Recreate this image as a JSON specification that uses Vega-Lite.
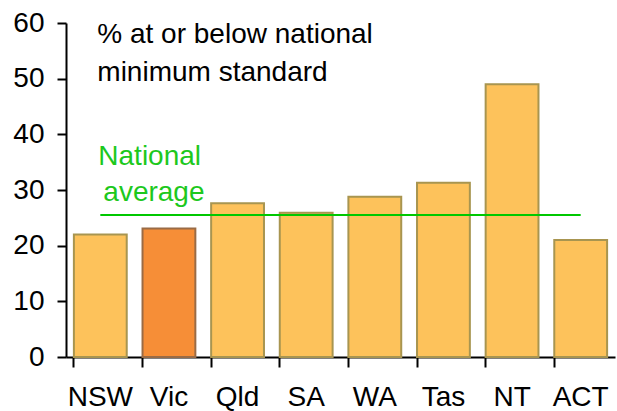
{
  "$schema": "https://vega.github.io/schema/vega-lite/v6.json",
  "autosize": {"type": "none"},
  "width": 549,
  "height": 334,
  "padding": {"left": 66, "top": 23, "right": 2, "bottom": 54},
  "background": "white",
  "config": {"view": {"stroke": null}, "font": "Liberation Sans"},
  "datasets": {
    "bars": [
      {"state": "NSW", "pct": 22.0, "hl": "no"},
      {"state": "Vic", "pct": 23.1, "hl": "yes"},
      {"state": "Qld", "pct": 27.6, "hl": "no"},
      {"state": "SA", "pct": 25.9, "hl": "no"},
      {"state": "WA", "pct": 28.8, "hl": "no"},
      {"state": "Tas", "pct": 31.3, "hl": "no"},
      {"state": "NT", "pct": 49.0, "hl": "no"},
      {"state": "ACT", "pct": 21.0, "hl": "no"}
    ],
    "avg": [{"from": "NSW", "to": "ACT", "value": 25.5}],
    "title": [
      {"state": "NSW", "y": 56.4, "text": "% at or below national"},
      {"state": "NSW", "y": 49.6, "text": "minimum standard"}
    ],
    "nat": [{"state": "NSW", "y": 34.5, "text": "National"}],
    "avgtext": [{"state": "NSW", "y": 28.0, "text": "average"}]
  },
  "encoding": {
    "x": {
      "field": "state", "type": "nominal",
      "scale": {"domain": ["NSW", "Vic", "Qld", "SA", "WA", "Tas", "NT", "ACT"], "paddingInner": 0.23, "paddingOuter": 0.115},
      "axis": {
        "title": null, "labelAngle": 0, "bandPosition": 0,
        "domainColor": "black", "domainWidth": 2, "tickColor": "black", "tickWidth": 2,
        "tickSize": 10, "labelFontSize": 28, "labelColor": "black", "labelPadding": 16,
        "labelFont": "Liberation Sans"
      }
    }
  },
  "layer": [
    {
      "data": {"name": "bars"},
      "mark": {"type": "bar", "strokeWidth": 2},
      "encoding": {
        "y": {
          "field": "pct", "type": "quantitative",
          "scale": {"domain": [0, 60], "nice": false},
          "axis": {
            "title": null, "values": [0, 10, 20, 30, 40, 50, 60], "grid": false,
            "domainColor": "black", "domainWidth": 2, "tickColor": "black", "tickWidth": 2,
            "tickSize": 9, "labelFontSize": 28, "labelColor": "black", "labelPadding": 13,
            "labelFont": "Liberation Sans"
          }
        },
        "fill": {
          "field": "hl", "type": "nominal",
          "scale": {"domain": ["no", "yes"], "range": ["#FDC25B", "#F68E37"]},
          "legend": null
        },
        "stroke": {
          "field": "hl", "type": "nominal",
          "scale": {"domain": ["no", "yes"], "range": ["#A89550", "#9A6B45"]},
          "legend": null
        }
      }
    },
    {
      "data": {"name": "avg"},
      "mark": {"type": "rule", "color": "#00C800", "strokeWidth": 2},
      "encoding": {
        "x": {"field": "from", "type": "nominal"},
        "x2": {"field": "to"},
        "y": {"field": "value", "type": "quantitative"}
      }
    },
    {
      "data": {"name": "title"},
      "mark": {"type": "text", "align": "left", "baseline": "alphabetic", "fontSize": 28, "font": "Liberation Sans", "color": "#000000", "dx": -3},
      "encoding": {
        "x": {"field": "state", "type": "nominal"},
        "y": {"field": "y", "type": "quantitative"},
        "text": {"field": "text"}
      }
    },
    {
      "data": {"name": "nat"},
      "mark": {"type": "text", "align": "left", "baseline": "alphabetic", "fontSize": 28, "font": "Liberation Sans", "color": "#1DC81D", "dx": -2},
      "encoding": {
        "x": {"field": "state", "type": "nominal"},
        "y": {"field": "y", "type": "quantitative"},
        "text": {"field": "text"}
      }
    },
    {
      "data": {"name": "avgtext"},
      "mark": {"type": "text", "align": "left", "baseline": "alphabetic", "fontSize": 28, "font": "Liberation Sans", "color": "#1DC81D", "dx": 3},
      "encoding": {
        "x": {"field": "state", "type": "nominal"},
        "y": {"field": "y", "type": "quantitative"},
        "text": {"field": "text"}
      }
    }
  ]
}
